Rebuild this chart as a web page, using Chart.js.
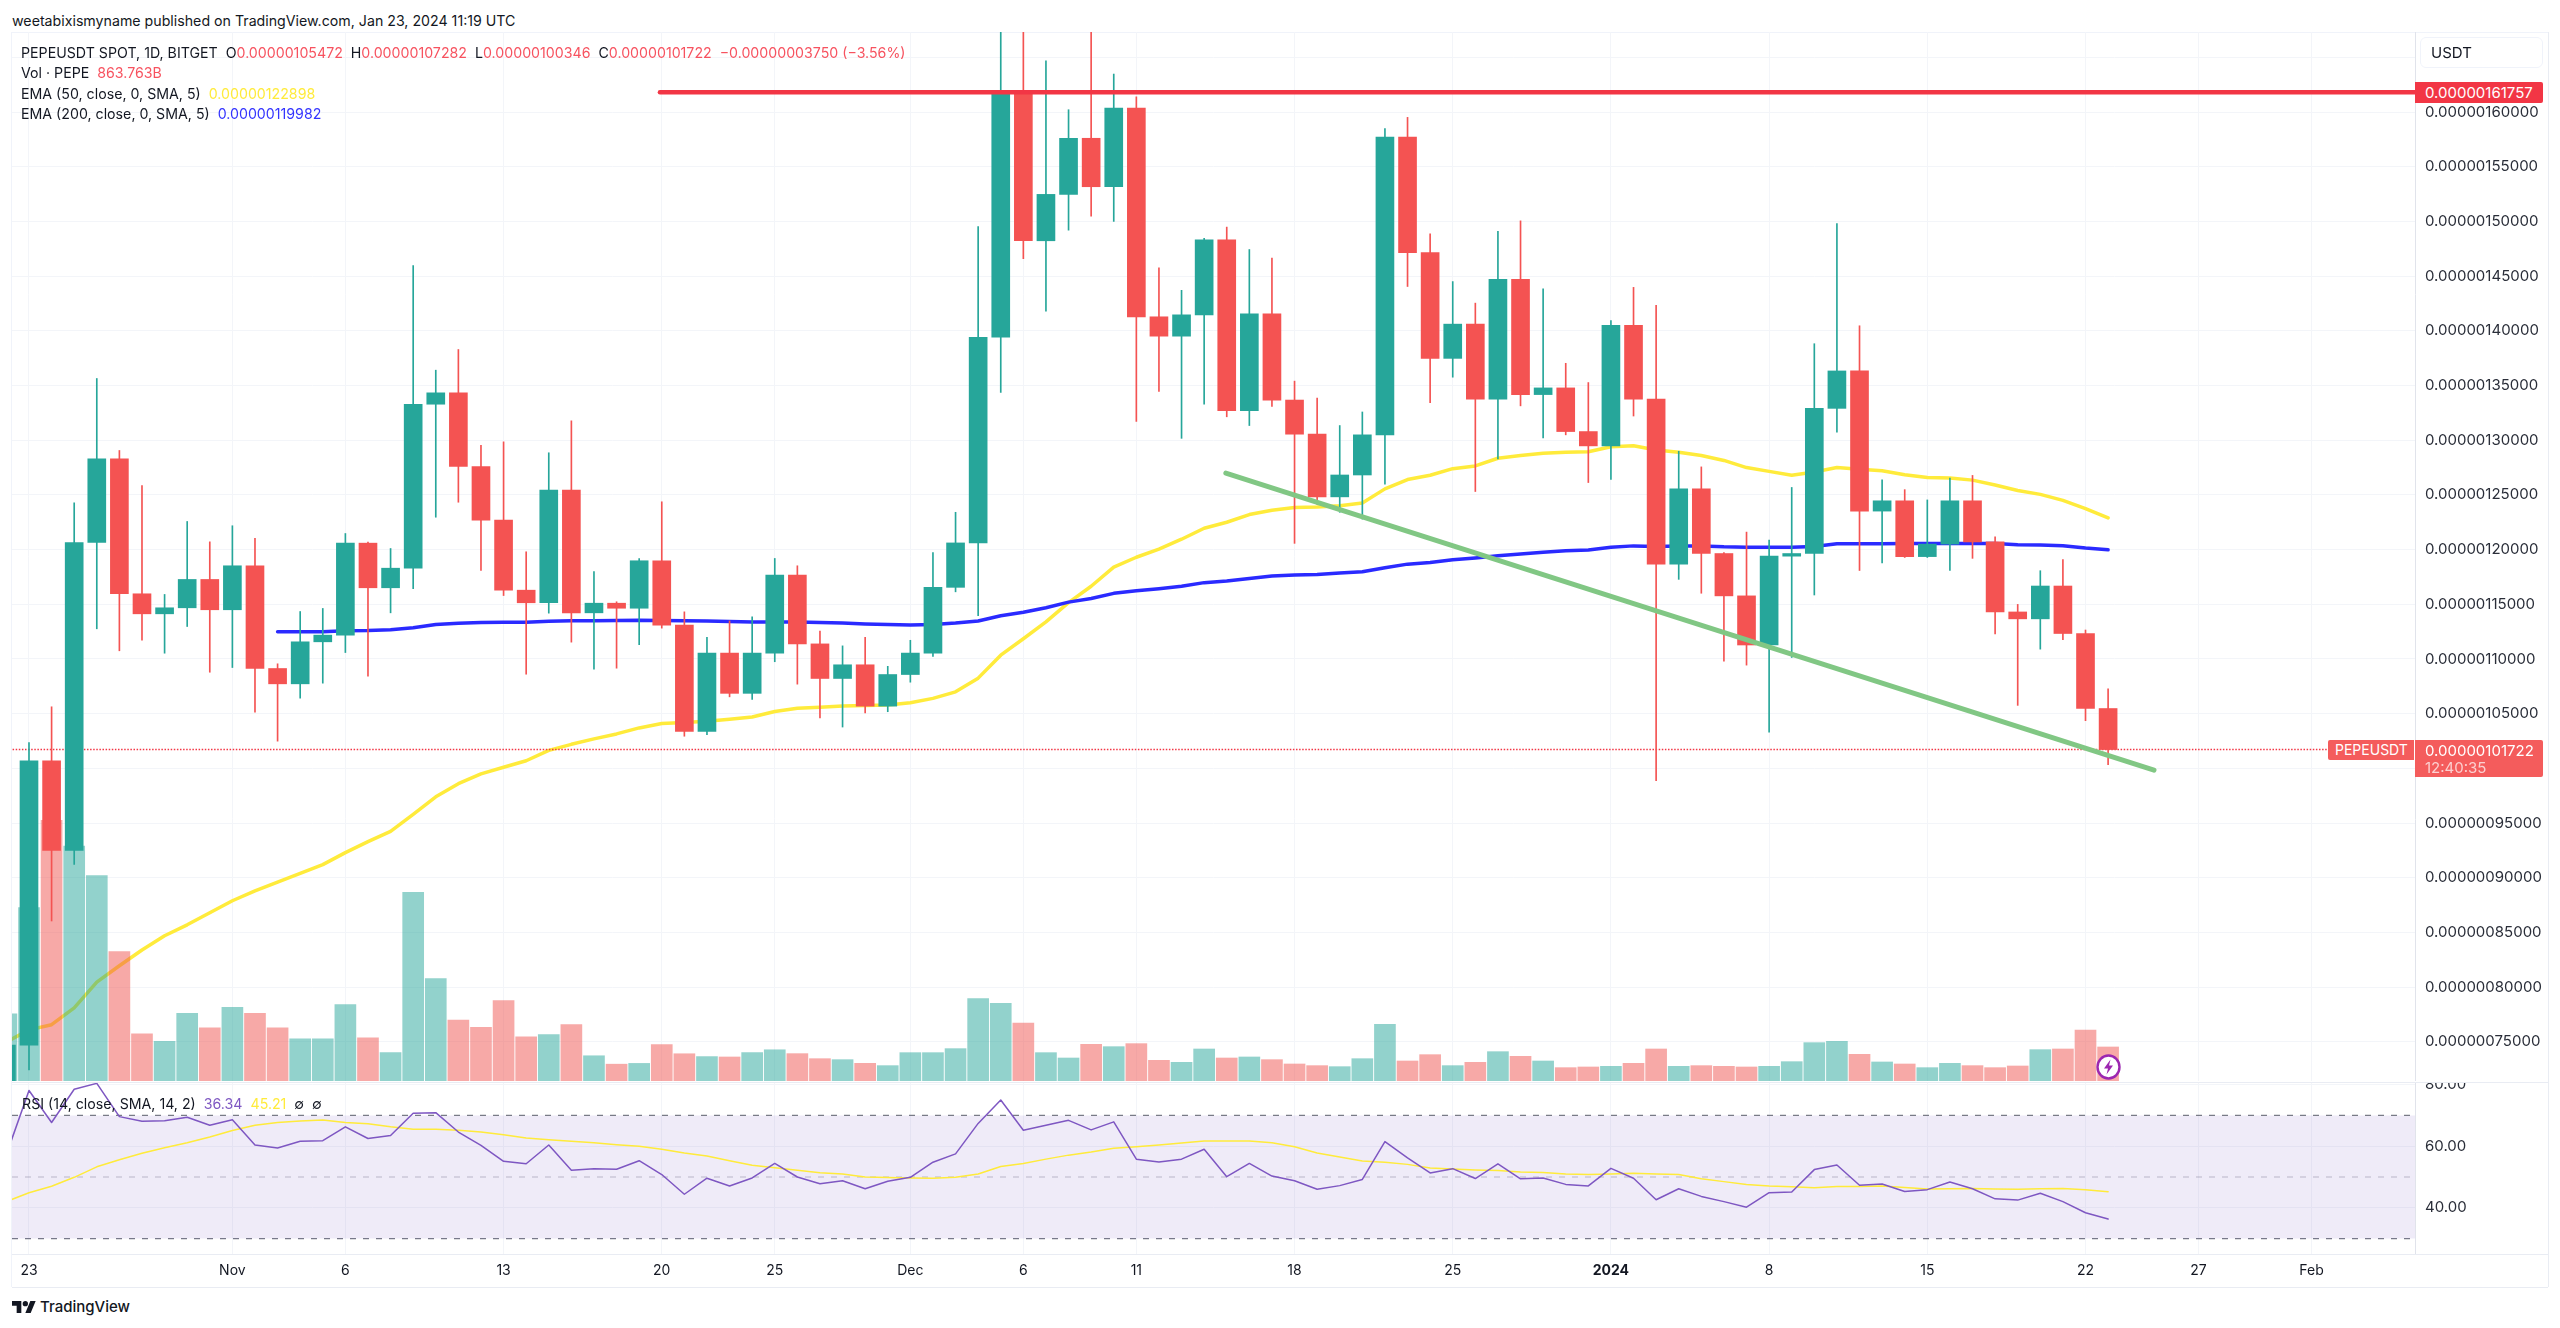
<!DOCTYPE html>
<html>
<head>
<meta charset="utf-8">
<title>PEPEUSDT</title>
<script src="https://cdn.jsdelivr.net/npm/chart.js@4"></script>
<style>
  html, body { margin: 0; padding: 0; background: #fff; }
  body { width: 2560px; height: 1328px; position: relative; overflow: hidden; font-family: Inter, sans-serif; font-size: 14.2px; color: #131722; }
  canvas { position: absolute; }
  .abs { position: absolute; white-space: pre; line-height: 20px; }
  .line { position: absolute; background: #e9ecf3; }
  .red { color: #f7525f; }
  .badge { position: absolute; color: #fff; white-space: pre; box-sizing: border-box; font-size: 15px; }
</style>
</head>
<body>
<div class="abs" style="left:12px;top:11px">weetabixismyname published on TradingView.com, Jan 23, 2024 11:19 UTC</div>

<div class="line" style="left:12px;top:32px;width:2536px;height:1px;background:#f0f3fa"></div>
<div class="line" style="left:11px;top:32px;width:1px;height:1255px;background:#f0f3fa"></div>
<div class="line" style="left:2548px;top:32px;width:1px;height:1255px"></div>
<div class="line" style="left:12px;top:1082px;width:2536px;height:1px"></div>
<div class="line" style="left:12px;top:1287px;width:2536px;height:1px"></div>

<canvas id="main" width="2536" height="1049" style="left:12px;top:32px"></canvas>
<canvas id="rsi" width="2536" height="204" style="left:12px;top:1083px"></canvas>

<div class="abs" style="left:21px;top:43px">PEPEUSDT SPOT, 1D, BITGET  O<span class="red">0.00000105472</span>  H<span class="red">0.00000107282</span>  L<span class="red">0.00000100346</span>  C<span class="red">0.00000101722  −0.00000003750 (−3.56%)</span></div>
<div class="abs" style="left:21px;top:63px">Vol · PEPE  <span class="red">863.763B</span></div>
<div class="abs" style="left:21px;top:84px">EMA (50, close, 0, SMA, 5)  <span style="color:#ffeb3b">0.00000122898</span></div>
<div class="abs" style="left:21px;top:104px">EMA (200, close, 0, SMA, 5)  <span style="color:#3333ff">0.00000119982</span></div>
<div class="abs" style="left:22px;top:1094px">RSI (14, close, SMA, 14, 2)  <span style="color:#7e57c2">36.34</span>  <span style="color:#ffeb3b">45.21</span>  ∅  ∅</div>

<div class="abs" style="left:2420px;top:37px;width:123px;height:31px;box-sizing:border-box;border:1px solid #f0f3fa;border-radius:6px;line-height:29px;padding-left:10px;font-size:15px">USDT</div>
<div class="badge" style="left:2415px;top:82px;width:128px;height:21px;background:#f23645;line-height:21px;padding-left:10px;border-radius:0 2px 2px 0">0.00000161757</div>
<div class="badge" style="left:2328px;top:740px;width:86px;height:20px;background:#f45c5c;line-height:20px;padding-left:7px;border-radius:2px 0 0 2px;font-size:14px">PEPEUSDT</div>
<div class="badge" style="left:2415px;top:740px;width:128px;height:37px;background:#f45c5c;line-height:17px;padding:2px 0 0 10px;border-radius:0 2px 2px 0">0.00000101722
<span style="color:#fcd0d0">12:40:35</span></div>

<svg style="position:absolute;left:2096px;top:1054px" width="25" height="26" viewBox="0 0 25 26">
  <ellipse cx="12.5" cy="13" rx="11" ry="11.5" fill="#fff" stroke="#9c27b0" stroke-width="2.4"/>
  <path d="M14.5 5.5 L8 14.5 H12 L10.5 20.5 L17 11.5 H13 Z" fill="#9c27b0"/>
</svg>

<svg style="position:absolute;left:12px;top:1301px" width="24" height="12" viewBox="0 0 36 18">
  <path d="M14 18H7V7H0V0h14v18zM28 18h-8L27.5 0h8L28 18z" fill="#131722"/><circle cx="20" cy="4" r="4" fill="#131722"/>
</svg>
<div class="abs" style="left:40px;top:1297px;font-size:15px;font-weight:500">TradingView</div>

<script>
// prices are in units of 1e-8 USDT, first bar is Oct 22 (day -1), day 0 = Oct 23
const firstDay = -1;
const opens = [68,
  74.71, 100.68, 92.5, 120.65, 128.3, 115.96, 114.13, 114.68, 117.27, 114.5,
  118.52, 109.13, 107.73, 111.57, 112.18, 120.59, 116.51, 118.3, 133.29, 134.33,
  127.6, 122.69, 116.29, 115.14, 125.43, 114.22, 115.1, 114.64, 118.98, 113.09,
  103.37, 110.54, 106.86, 110.54, 117.68, 111.38, 108.22, 109.47, 105.69, 108.58,
  110.54, 116.55, 120.61, 139.41, 161.65, 148.23, 152.47, 157.6, 153.17, 160.35,
  141.28, 139.51, 141.46, 148.32, 132.7, 141.55, 133.67, 130.55, 124.82, 126.82,
  130.49, 157.71, 147.15, 137.48, 140.61, 133.76, 144.7, 134.17, 134.78, 130.79,
  129.48, 140.49, 133.76, 118.67, 125.56, 119.64, 115.77, 111.28, 119.4, 119.64,
  132.91, 136.33, 123.52, 124.46, 119.36, 120.5, 124.46, 120.7, 114.3, 113.67,
  116.67, 112.33, 105.472];
const closes = [74.71,
  100.68, 92.5, 120.65, 128.3, 115.96, 114.13, 114.68, 117.27, 114.5, 118.52,
  109.13, 107.73, 111.57, 112.18, 120.59, 116.51, 118.3, 133.29, 134.33, 127.6,
  122.69, 116.29, 115.14, 125.43, 114.22, 115.1, 114.64, 118.98, 113.09, 103.37,
  110.54, 106.86, 110.54, 117.68, 111.38, 108.22, 109.47, 105.69, 108.58, 110.54,
  116.55, 120.61, 139.41, 161.65, 148.23, 152.47, 157.6, 153.17, 160.35, 141.28,
  139.51, 141.46, 148.32, 132.7, 141.55, 133.67, 130.55, 124.82, 126.82, 130.49,
  157.71, 147.15, 137.48, 140.61, 133.76, 144.7, 134.17, 134.78, 130.79, 129.48,
  140.49, 133.76, 118.67, 125.56, 119.64, 115.77, 111.28, 119.4, 119.64, 132.91,
  136.33, 123.52, 124.46, 119.36, 120.5, 124.46, 120.7, 114.3, 113.67, 116.67,
  112.33, 105.472, 101.722];
const highs = [76,
  102.37, 105.63, 124.28, 135.64, 129.06, 125.86, 115.9, 122.57, 120.71, 122.18,
  121.02, 109.56, 114.34, 114.62, 121.47, 120.68, 120.1, 145.97, 136.4, 138.29,
  129.52, 129.85, 119.8, 128.85, 131.77, 118, 115.23, 119.19, 124.37, 114.31,
  111.98, 113.48, 113.86, 119.19, 118.52, 112.55, 111.2, 111.98, 109.33, 111.71,
  119.73, 123.41, 149.53, 170, 170, 164.69, 160.21, 170, 163.47, 161.38,
  145.75, 143.7, 148.45, 149.48, 147.43, 146.64, 135.4, 133.86, 131.34, 132.58,
  158.49, 159.51, 148.86, 144.5, 142.53, 149.1, 150.05, 143.84, 137.03, 135.27,
  140.94, 143.97, 142.33, 128.99, 127.56, 119.73, 121.6, 120.87, 125.68, 138.82,
  149.8, 140.46, 126.37, 125.48, 124.54, 126.54, 126.78, 121.17, 114.99, 118.07,
  119.09, 112.65, 107.282];
const lows = [66,
  72.44, 86.05, 91.22, 112.76, 110.75, 111.72, 110.53, 112.97, 108.79, 109.22,
  105.14, 102.49, 106.42, 107.79, 110.59, 108.43, 114.22, 116.42, 122.96, 124.33,
  118.09, 115.8, 108.61, 114.19, 111.54, 109.07, 109.16, 111.3, 112.82, 102.94,
  103.08, 106.54, 106.3, 109.75, 107.7, 104.62, 103.78, 105.08, 105.18, 107.88,
  110.23, 116.14, 113.95, 134.37, 146.59, 141.79, 149.2, 150.47, 150, 131.72,
  134.47, 130.17, 133.3, 132.14, 131.34, 133.08, 120.57, 124.12, 123.41, 122.79,
  125.97, 144.05, 133.44, 135.76, 125.31, 128.29, 133.14, 130.21, 130.49, 126.13,
  126.42, 132.21, 98.87, 117.28, 116.01, 109.81, 109.44, 103.32, 110.14, 115.85,
  130.74, 118.09, 118.78, 119.28, 119.28, 118.09, 119.2, 112.29, 105.76, 110.9,
  111.77, 104.36, 100.346];
// volume in billions of PEPE
const volumes = [1709,
  4404, 6621, 5970, 5217, 3285, 1200, 1007, 1719, 1353, 1871,
  1719, 1353, 1068, 1068, 1942, 1098, 722, 4790, 2604, 1546,
  1363, 2044, 1119, 1180, 1434, 641, 427, 447, 925, 692,
  620, 610, 722, 793, 695, 567, 542, 449, 390, 720,
  720, 822, 2092, 1974, 1474, 720, 584, 932, 872, 949,
  525, 474, 813, 584, 610, 542, 432, 390, 364, 567,
  1440, 508, 669, 390, 474, 745, 627, 508, 339, 356,
  373, 449, 813, 373, 390, 373, 356, 373, 491, 974,
  1008, 678, 483, 432, 339, 449, 390, 339, 381, 796,
  813, 1296, 864];
const ema50 = [75,
  76.1, 76.57, 78.1, 80.46, 81.96, 83.4, 84.7, 85.7, 86.8, 87.9,
  88.8, 89.6, 90.4, 91.2, 92.3, 93.3, 94.25, 95.8, 97.4, 98.6,
  99.5, 100.1, 100.7, 101.65, 102.2, 102.7, 103.15, 103.7, 104.1, 104.2,
  104.3, 104.5, 104.7, 105.2, 105.5, 105.6, 105.7, 105.75, 105.8, 106,
  106.4, 107, 108.25, 110.35, 111.85, 113.4, 115.15, 116.65, 118.4, 119.3,
  120.05, 120.95, 121.95, 122.5, 123.2, 123.6, 123.85, 123.9, 124, 124.25,
  125.55, 126.4, 126.8, 127.4, 127.65, 128.35, 128.6, 128.8, 128.9, 128.95,
  129.4, 129.5, 129.1, 128.9, 128.6, 128.15, 127.5, 127.15, 126.8, 127.1,
  127.5, 127.35, 127.2, 126.85, 126.6, 126.55, 126.35, 125.9, 125.4, 125.05,
  124.5, 123.75, 122.898];
const ema200Start = 11;
const ema200 = [112.49, 112.49, 112.49, 112.58, 112.6, 112.67, 112.85, 113.15, 113.27,
  113.33, 113.36, 113.36, 113.46, 113.49, 113.49, 113.52, 113.55, 113.52, 113.5,
  113.48, 113.43, 113.39, 113.39, 113.39, 113.33, 113.29, 113.2, 113.15, 113.11,
  113.15, 113.29, 113.48, 113.95, 114.27, 114.69, 115.2, 115.53, 116, 116.23,
  116.42, 116.65, 116.98, 117.12, 117.36, 117.58, 117.68, 117.72, 117.86, 117.97,
  118.34, 118.67, 118.82, 119.07, 119.23, 119.43, 119.6, 119.76, 119.89, 119.97,
  120.21, 120.34, 120.29, 120.34, 120.34, 120.25, 120.21, 120.21, 120.21, 120.29,
  120.54, 120.54, 120.54, 120.56, 120.56, 120.56, 120.56, 120.56, 120.45, 120.41,
  120.35, 120.14, 119.98];
const rsiValues = [57.3,
  78.1, 67.7, 78.5, 80.4, 69.6, 68.1, 68.3, 69.4, 66.8, 68.6,
  60.4, 59.4, 61.6, 61.8, 66.3, 62.5, 63.5, 70.7, 70.9, 64.6,
  60.3, 55.1, 54.3, 60.4, 52.2, 52.7, 52.5, 55.3, 50.8, 44.4,
  49.6, 47.1, 49.7, 54.4, 50, 47.8, 48.8, 46.2, 48.6, 49.9,
  54.8, 57.5, 67.4, 75, 65.2, 66.8, 68.4, 65.3, 67.9, 55.8,
  54.9, 55.8, 59, 50.1, 54.4, 50.3, 48.8, 46, 47.2, 49.2,
  61.5, 56.2, 51.3, 52.7, 49.5, 54.3, 49.4, 49.7, 47.6, 47.1,
  52.8, 49.6, 42.6, 46.2, 43.7, 42, 40.2, 44.9, 45.1, 52.4,
  53.9, 47.3, 47.7, 45.3, 45.9, 48.4, 46.2, 42.9, 42.5, 44.7,
  42, 38.4, 36.34];
const rsiSma = [42,
  44.9, 47, 49.9, 53.3, 55.6, 57.7, 59.5, 61.1, 63, 65.1,
  66.8, 67.7, 68.2, 68.5, 67.7, 67.3, 66.3, 65.5, 65.5, 65.2,
  64.6, 63.7, 62.7, 62.1, 61.6, 61.1, 60.5, 60, 59, 57.8,
  56.8, 55.3, 53.8, 53, 52.2, 51.4, 51, 50, 49.8, 49.7,
  49.6, 49.9, 51, 53.4, 54.4, 55.8, 57.1, 58.1, 59.3, 59.8,
  60.4, 61, 61.7, 61.7, 61.7, 61.1, 59.8, 57.8, 56.5, 55.2,
  54.8, 54.1, 52.9, 52.6, 52.3, 52.1, 51.6, 51.5, 51, 50.8,
  51, 51.2, 51, 50.8, 49.4, 48.5, 47.6, 47.1, 46.8, 46.5,
  46.9, 46.9, 47.1, 46.6, 46.1, 46.2, 46.3, 46.1, 46, 46.2,
  46.3, 45.9, 45.21];

const priceTicks = [75, 80, 85, 90, 95, 100, 105, 110, 115, 120, 125, 130, 135, 140, 145, 150, 155, 160, 165];
const hiddenPriceLabels = [100, 165]; // covered by the price badges
const rsiTicks = [40, 60, 80];
const tickDays = [0, 9, 14, 21, 28, 33, 39, 44, 49, 56, 63, 70, 77, 84, 91, 96, 101];
const tickNames = ["23", "Nov", "6", "13", "20", "25", "Dec", "6", "11", "18", "25", "2024", "8", "15", "22", "27", "Feb"];

// drawn lines: [day, price]
const resistance = [[27.92, 161.8], [105.6, 161.8]];
const trendLine = [[52.96, 127.0], [94.03, 99.84]];
const lastPrice = [[-1, 101.722], [101.7, 101.722]];

const xMin = -0.752, xMax = 105.58;
const TEAL = "#26a69a", RED = "#f45352";
const GRID = "#f3f5f9";

const days = opens.map((_, i) => i + firstDay);
const isUp = (i) => closes[i] >= opens[i];
const series = (vals, start) => vals.map((y, i) => ({ x: i + start, y: y }));
const pts = (list) => list.map((p) => ({ x: p[0], y: p[1] }));
const lineDs = (data, color, width, order, extra) => Object.assign({
  type: "line", data: data, borderColor: color, borderWidth: width, pointRadius: 0,
  order: order, tension: 0, borderCapStyle: "round", borderJoinStyle: "round", yAxisID: "y",
}, extra);

const xAxis = (showLabels) => ({
  type: "linear", min: xMin, max: xMax, offset: false,
  afterBuildTicks: (s) => { s.ticks = tickDays.map((v) => ({ value: v })); },
  afterFit: (s) => { s.height = showLabels ? 33 : 0; s.paddingLeft = 0; s.paddingRight = 0; },
  grid: { color: GRID, drawTicks: false, offset: false },
  border: { display: false },
  ticks: {
    display: showLabels, autoSkip: false, maxRotation: 0, padding: 8, color: "#131722",
    font: (c) => ({ family: "Inter", size: 14, weight: c.tick && c.tick.value === 70 ? "bold" : "normal" }),
    callback: (v) => tickNames[tickDays.indexOf(v)],
  },
});
const yFit = (s) => { s.width = 133; s.paddingTop = 0; s.paddingBottom = 0; };

new Chart(document.getElementById("main"), {
  type: "bar",
  data: {
    datasets: [
      lineDs(series(ema50, firstDay), "#ffeb3b", 3.5, 6),
      lineDs(series(ema200, ema200Start), "#2a2aff", 3.5, 5),
      {
        label: "volume", yAxisID: "yVol", grouped: false, barThickness: 21, order: 4,
        data: days.map((d, i) => ({ x: d, y: volumes[i] })),
        backgroundColor: days.map((_, i) => isUp(i) ? "rgba(38,166,154,0.5)" : "rgba(239,83,80,0.5)"),
      },
      lineDs(pts(lastPrice), "#f23645", 1.4, 3.5, { borderDash: [1.5, 1.6], borderCapStyle: "butt" }),
      {
        label: "wick", yAxisID: "y", grouped: false, barThickness: 1, order: 3,
        data: days.map((d, i) => ({ x: d, y: [lows[i], highs[i]] })),
        backgroundColor: days.map((_, i) => isUp(i) ? TEAL : RED),
      },
      {
        label: "body", yAxisID: "y", grouped: false, barThickness: 18, order: 2,
        data: days.map((d, i) => ({ x: d, y: [opens[i], closes[i]] })),
        backgroundColor: days.map((_, i) => isUp(i) ? TEAL : RED),
      },
      lineDs(pts(trendLine), "#81c784", 5, 1),
      lineDs(pts(resistance), "#f23645", 4.5, 0),
    ],
  },
  options: {
    responsive: false,
    animation: false,
    layout: { padding: 0 },
    plugins: { legend: { display: false }, tooltip: { enabled: false } },
    scales: {
      x: xAxis(false),
      y: {
        type: "linear", position: "right", min: 71.424, max: 167.314,
        afterBuildTicks: (s) => { s.ticks = priceTicks.map((v) => ({ value: v })); },
        afterFit: yFit,
        grid: { color: GRID, drawTicks: false },
        border: { color: "#e0e3eb" },
        ticks: {
          color: "#2a2e39", padding: 10, crossAlign: "near", autoSkip: false,
          font: { family: "Inter", size: 15 },
          callback: (v) => hiddenPriceLabels.includes(v) ? "" : (v * 1e-8).toFixed(11),
        },
      },
      yVol: { type: "linear", display: false, min: 0, max: 26645 },
    },
  },
});

new Chart(document.getElementById("rsi"), {
  type: "line",
  data: {
    datasets: [
      lineDs(series(rsiSma, firstDay), "#ffeb3b", 1.5, 1),
      lineDs(series(rsiValues, firstDay), "#7e57c2", 1.5, 0),
      lineDs(pts([[xMin, 70], [xMax, 70]]), "#787b86", 1.2, 3, { borderDash: [6, 7], borderCapStyle: "butt", fill: { target: { value: 30 } }, backgroundColor: "rgba(126,87,194,0.12)" }),
      lineDs(pts([[xMin, 50], [xMax, 50]]), "rgba(120,123,134,0.45)", 1.2, 3, { borderDash: [6, 7], borderCapStyle: "butt" }),
      lineDs(pts([[xMin, 30], [xMax, 30]]), "#787b86", 1.2, 3, { borderDash: [6, 7], borderCapStyle: "butt" }),
    ],
  },
  options: {
    responsive: false,
    animation: false,
    layout: { padding: 0 },
    plugins: { legend: { display: false }, tooltip: { enabled: false } },
    scales: {
      x: xAxis(true),
      y: {
        type: "linear", position: "right", min: 25, max: 80.52,
        afterBuildTicks: (s) => { s.ticks = rsiTicks.map((v) => ({ value: v })); },
        afterFit: yFit,
        grid: { color: GRID, drawTicks: false },
        border: { color: "#e0e3eb" },
        ticks: {
          color: "#2a2e39", padding: 10, crossAlign: "near", autoSkip: false,
          font: { family: "Inter", size: 15 },
          callback: (v) => v.toFixed(2),
        },
      },
    },
  },
});
</script>
<div class="line" style="left:12px;top:1254px;width:2536px;height:1px"></div>
</body>
</html>
